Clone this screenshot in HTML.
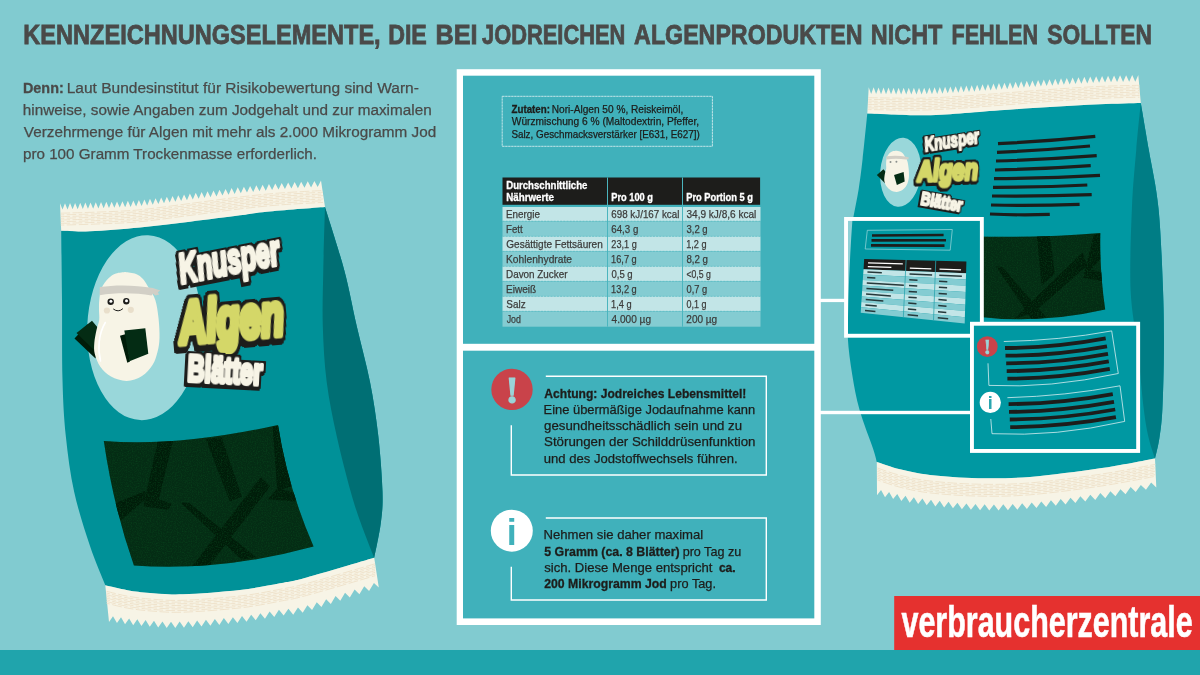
<!DOCTYPE html>
<html lang="de"><head><meta charset="utf-8"><title>Kennzeichnungselemente bei jodreichen Algenprodukten</title>
<style>html,body{margin:0;padding:0;background:#81cbd0;overflow:hidden}svg{display:block}text{font-family:"Liberation Sans",sans-serif}.b{font-weight:bold}</style></head><body>
<svg width="1200" height="675" viewBox="0 0 1200 675" role="img" aria-label="Infografik: Kennzeichnungselemente bei jodreichen Algenprodukten">
<defs>
<filter id="nz" x="0" y="0" width="100%" height="100%" color-interpolation-filters="sRGB"><feTurbulence type="fractalNoise" baseFrequency="0.8" numOctaves="2" seed="7" result="t"/><feColorMatrix in="t" type="matrix" values="0 0 0 0 0.03  0 0 0 0 0.27  0 0 0 0 0.11  0 1.5 0 0 -0.64"/></filter>
</defs>
<rect width="1200" height="675" fill="#81cbd0"/>
<rect y="650" width="1200" height="25" fill="#20a4ac"/>
<text><tspan x="23.32" y="43.6" font-size="27.6" fill="#4a4a49" stroke="#4a4a49" stroke-width="0.8" textLength="357.35" lengthAdjust="spacingAndGlyphs" class="b">KENNZEICHNUNGSELEMENTE,</tspan> <tspan x="388.15" y="43.6" font-size="27.6" fill="#4a4a49" stroke="#4a4a49" stroke-width="0.8" textLength="38.66" lengthAdjust="spacingAndGlyphs" class="b">DIE</tspan> <tspan x="435.51" y="43.6" font-size="27.6" fill="#4a4a49" stroke="#4a4a49" stroke-width="0.8" textLength="42.08" lengthAdjust="spacingAndGlyphs" class="b">BEI</tspan> <tspan x="482.07" y="43.6" font-size="27.6" fill="#4a4a49" stroke="#4a4a49" stroke-width="0.8" textLength="143.3" lengthAdjust="spacingAndGlyphs" class="b">JODREICHEN</tspan> <tspan x="634.12" y="43.6" font-size="27.6" fill="#4a4a49" stroke="#4a4a49" stroke-width="0.8" textLength="228.34" lengthAdjust="spacingAndGlyphs" class="b">ALGENPRODUKTEN</tspan> <tspan x="870.83" y="43.6" font-size="27.6" fill="#4a4a49" stroke="#4a4a49" stroke-width="0.8" textLength="71.52" lengthAdjust="spacingAndGlyphs" class="b">NICHT</tspan> <tspan x="951.45" y="43.6" font-size="27.6" fill="#4a4a49" stroke="#4a4a49" stroke-width="0.8" textLength="86.61" lengthAdjust="spacingAndGlyphs" class="b">FEHLEN</tspan> <tspan x="1047.25" y="43.6" font-size="27.6" fill="#4a4a49" stroke="#4a4a49" stroke-width="0.8" textLength="104.66" lengthAdjust="spacingAndGlyphs" class="b">SOLLTEN</tspan></text>
<text><tspan x="22.99" y="92.5" font-size="15.2" fill="#4a4a49" stroke="#4a4a49" stroke-width="0.3" textLength="40.75" lengthAdjust="spacingAndGlyphs" class="b">Denn:</tspan> <tspan x="66.65" y="92.5" font-size="15.2" fill="#4a4a49" stroke="#4a4a49" stroke-width="0.25" textLength="352.21" lengthAdjust="spacingAndGlyphs">Laut Bundesinstitut für Risikobewertung sind Warn-</tspan> <tspan x="22.87" y="114.5" font-size="15.2" fill="#4a4a49" stroke="#4a4a49" stroke-width="0.25" textLength="408.8" lengthAdjust="spacingAndGlyphs">hinweise, sowie Angaben zum Jodgehalt und zur maximalen</tspan> <tspan x="23.86" y="136.5" font-size="15.2" fill="#4a4a49" stroke="#4a4a49" stroke-width="0.25" textLength="412.3" lengthAdjust="spacingAndGlyphs">Verzehrmenge für Algen mit mehr als 2.000 Mikrogramm Jod</tspan> <tspan x="22.95" y="158.5" font-size="15.2" fill="#4a4a49" stroke="#4a4a49" stroke-width="0.25" textLength="294.11" lengthAdjust="spacingAndGlyphs">pro 100 Gramm Trockenmasse erforderlich.</tspan></text>
<path d="M61.2 230.8C61.33 242.33 61.78 275.13 62 300C62.22 324.87 61.87 357.33 62.5 380C63.13 402.67 63.85 417.33 65.8 436C67.75 454.67 70.17 473.67 74.2 492C78.23 510.33 84.82 530.45 90 546C95.18 561.55 102.75 578.75 105.3 585.3L105.3 585.3C109 586.12 120.05 588.92 127.5 590.2C134.95 591.48 140.75 592.32 150 593C159.25 593.68 168 594.8 183 594.3C198 593.8 223.83 591.83 240 590C256.17 588.17 268.88 585.38 280 583.3C291.12 581.22 291 581.75 306.7 577.5C322.4 573.25 362.95 561.08 374.2 557.8L374.2 557.8C375.3 552 379.42 533.97 380.8 523C382.18 512.03 382.92 506.5 382.5 492C382.08 477.5 380.38 454.33 378.3 436C376.22 417.67 373.6 400.33 370 382C366.4 363.67 361 344.67 356.7 326C352.4 307.33 349.48 289.83 344.2 270C338.92 250.17 328.2 217.5 325 207L325 207C315.28 207.78 280.87 210.32 266.7 211.7C252.53 213.08 252.78 213.63 240 215.3C227.22 216.97 206.67 219.67 190 221.7C173.33 223.73 156.67 225.9 140 227.5C123.33 229.1 103.13 230.75 90 231.3C76.87 231.85 66 230.88 61.2 230.8Z" fill="#009198"/>
<path d="M325 207C328.2 217.5 338.92 250.17 344.2 270C349.48 289.83 352.4 307.33 356.7 326C361 344.67 366.4 363.67 370 382C373.6 400.33 376.22 417.67 378.3 436C380.38 454.33 382.08 477.5 382.5 492C382.92 506.5 382.18 512.03 380.8 523C379.42 533.97 375.3 552 374.2 557.8L374.2 557.8C371.97 552 364.7 533.97 360.8 523C356.9 512.03 354.82 506.5 350.8 492C346.78 477.5 340.72 454.33 336.7 436C332.68 417.67 329.02 400.33 326.7 382C324.38 363.67 323.37 344.67 322.8 326C322.23 307.33 322.93 289.83 323.3 270C323.67 250.17 324.72 217.5 325 207Z" fill="#006f74"/>
<ellipse cx="144.2" cy="327.7" rx="57" ry="92.5" transform="rotate(2.5 144.2 327.7)" fill="#99d7da"/>
<path d="M60 203.3L62.5 209.53L65 203.16L67.51 209.4L70.03 203.03L72.57 209.27L75.1 202.9L77.66 209.13L80.21 202.76L82.79 208.99L85.36 202.61L87.95 208.83L90.54 202.45L93.15 208.66L95.76 202.27L98.39 208.47L101.02 202.06L103.67 208.25L106.32 201.85L108.98 208.05L111.65 201.64L114.34 207.84L117.02 201.42L119.73 207.6L122.43 201.17L125.15 207.32L127.87 200.85L130.61 206.97L133.34 200.47L136.1 206.55L138.85 200.01L141.62 206.04L144.38 199.46L147.17 205.46L149.95 198.84L152.75 204.8L155.55 198.16L158.36 204.1L161.18 197.44L164.01 203.37L166.84 196.69L169.69 202.61L172.54 195.92L175.41 201.84L178.28 195.15L181.17 201.06L184.05 194.38L186.96 200.29L189.87 193.62L192.79 199.54L195.72 192.86L198.66 198.77L201.61 192.08L204.57 197.99L207.53 191.29L210.51 197.19L213.49 190.49L216.49 196.39L219.49 189.69L222.51 195.59L225.53 188.9L228.57 194.81L231.61 188.12L234.67 194.04L237.73 187.37L240.81 193.31L243.89 186.65L246.99 192.6L250.09 185.95L253.21 191.91L256.33 185.28L259.47 191.26L262.61 184.65L265.78 190.64L268.94 184.05L272.12 190.06L275.3 183.49L278.51 189.52L281.71 182.97L284.94 189.03L288.16 182.51L291.41 188.59L294.65 182.09L297.92 188.19L301.18 181.7L304.47 187.82L307.75 181.33L311.05 187.45L314.36 180.97L317.68 187.09L321 180.6L325 207L325 207C315.28 207.78 280.87 210.32 266.7 211.7C252.53 213.08 252.78 213.63 240 215.3C227.22 216.97 206.67 219.67 190 221.7C173.33 223.73 156.67 225.9 140 227.5C123.33 229.1 103.13 230.75 90 231.3C76.87 231.85 66 230.88 61.2 230.8Z" fill="#f7f4e6"/>
<path d="M60.8 213.2C67.33 213 86.8 212.57 100 212C113.2 211.43 125 211.22 140 209.8C155 208.38 173.33 205.63 190 203.5C206.67 201.37 225 198.75 240 197C255 195.25 266.17 194.08 280 193C293.83 191.92 315.83 190.92 323 190.5M60.8 216.6C67.33 216.4 86.8 215.97 100 215.4C113.2 214.83 125 214.62 140 213.2C155 211.78 173.33 209.03 190 206.9C206.67 204.77 225 202.15 240 200.4C255 198.65 266.17 197.48 280 196.4C293.83 195.32 315.83 194.32 323 193.9M60.8 220C67.33 219.8 86.8 219.37 100 218.8C113.2 218.23 125 218.02 140 216.6C155 215.18 173.33 212.43 190 210.3C206.67 208.17 225 205.55 240 203.8C255 202.05 266.17 200.88 280 199.8C293.83 198.72 315.83 197.72 323 197.3M60.8 223.4C67.33 223.2 86.8 222.77 100 222.2C113.2 221.63 125 221.42 140 220C155 218.58 173.33 215.83 190 213.7C206.67 211.57 225 208.95 240 207.2C255 205.45 266.17 204.28 280 203.2C293.83 202.12 315.83 201.12 323 200.7" fill="none" stroke="#eddfc6" stroke-width="0.85" stroke-dasharray="9.5 2.5"/>
<path d="M60.8 214.9C67.33 214.7 86.8 214.27 100 213.7C113.2 213.13 125 212.92 140 211.5C155 210.08 173.33 207.33 190 205.2C206.67 203.07 225 200.45 240 198.7C255 196.95 266.17 195.78 280 194.7C293.83 193.62 315.83 192.62 323 192.2M60.8 218.3C67.33 218.1 86.8 217.67 100 217.1C113.2 216.53 125 216.32 140 214.9C155 213.48 173.33 210.73 190 208.6C206.67 206.47 225 203.85 240 202.1C255 200.35 266.17 199.18 280 198.1C293.83 197.02 315.83 196.02 323 195.6M60.8 221.7C67.33 221.5 86.8 221.07 100 220.5C113.2 219.93 125 219.72 140 218.3C155 216.88 173.33 214.13 190 212C206.67 209.87 225 207.25 240 205.5C255 203.75 266.17 202.58 280 201.5C293.83 200.42 315.83 199.42 323 199M60.8 225.1C67.33 224.9 86.8 224.47 100 223.9C113.2 223.33 125 223.12 140 221.7C155 220.28 173.33 217.53 190 215.4C206.67 213.27 225 210.65 240 208.9C255 207.15 266.17 205.98 280 204.9C293.83 203.82 315.83 202.82 323 202.4" fill="none" stroke="#eddfc6" stroke-width="0.85" stroke-dasharray="9.5 2.5" stroke-dashoffset="6"/>
<path d="M105.3 585.3C109 586.12 120.05 588.92 127.5 590.2C134.95 591.48 140.75 592.32 150 593C159.25 593.68 168 594.8 183 594.3C198 593.8 223.83 591.83 240 590C256.17 588.17 268.88 585.38 280 583.3C291.12 581.22 291 581.75 306.7 577.5C322.4 573.25 362.95 561.08 374.2 557.8L378.8 587.6L373.93 582.95L369.06 590.92L364.23 586.29L359.4 594.25L354.61 589.6L349.81 597.54L345.05 592.87L340.29 600.79L335.56 596.09L330.83 603.98L326.13 599.25L321.43 607.1L316.75 602.31L312.07 610.09L307.4 605.2L302.7 612.8L297.99 607.62L293.22 614.71L288.43 608.74L283.65 615.39L278.94 609.78L274.25 616.9L269.6 611.47L264.96 618.65L260.36 613.2L255.74 620.3L251.16 614.75L246.56 621.74L242 616.05L237.42 622.91L232.88 617.13L228.34 623.93L223.84 618.12L219.33 624.88L214.86 619.03L210.39 625.76L205.95 619.86L201.52 626.54L197.12 620.59L192.71 627.22L188.34 621.2L183.97 627.74L179.64 621.61L175.3 628L171 621.7L166.7 627.91L162.45 621.44L158.19 627.48L153.98 620.86L149.77 626.79L145.61 620.1L141.44 626.02L137.31 619.35L133.19 625.22L129.11 618.43L125.04 624.19L121.01 617.33L116.98 623.05L112.99 616.16L109 621.9Z" fill="#f7f4e6"/>
<path d="M106.5 591.3C110 592.12 120.25 594.92 127.5 596.2C134.75 597.48 140.75 598.32 150 599C159.25 599.68 168 600.8 183 600.3C198 599.8 223.83 597.83 240 596C256.17 594.17 268.88 591.38 280 589.3C291.12 587.22 290.83 587.75 306.7 583.5C322.57 579.25 363.78 567.08 375.2 563.8M106.5 594.7C110 595.52 120.25 598.32 127.5 599.6C134.75 600.88 140.75 601.72 150 602.4C159.25 603.08 168 604.2 183 603.7C198 603.2 223.83 601.23 240 599.4C256.17 597.57 268.88 594.78 280 592.7C291.12 590.62 290.83 591.15 306.7 586.9C322.57 582.65 363.78 570.48 375.2 567.2M106.5 598.1C110 598.92 120.25 601.72 127.5 603C134.75 604.28 140.75 605.12 150 605.8C159.25 606.48 168 607.6 183 607.1C198 606.6 223.83 604.63 240 602.8C256.17 600.97 268.88 598.18 280 596.1C291.12 594.02 290.83 594.55 306.7 590.3C322.57 586.05 363.78 573.88 375.2 570.6M106.5 601.5C110 602.32 120.25 605.12 127.5 606.4C134.75 607.68 140.75 608.52 150 609.2C159.25 609.88 168 611 183 610.5C198 610 223.83 608.03 240 606.2C256.17 604.37 268.88 601.58 280 599.5C291.12 597.42 290.83 597.95 306.7 593.7C322.57 589.45 363.78 577.28 375.2 574" fill="none" stroke="#eddfc6" stroke-width="0.85" stroke-dasharray="9.5 2.5"/>
<path d="M106.5 593C110 593.82 120.25 596.62 127.5 597.9C134.75 599.18 140.75 600.02 150 600.7C159.25 601.38 168 602.5 183 602C198 601.5 223.83 599.53 240 597.7C256.17 595.87 268.88 593.08 280 591C291.12 588.92 290.83 589.45 306.7 585.2C322.57 580.95 363.78 568.78 375.2 565.5M106.5 596.4C110 597.22 120.25 600.02 127.5 601.3C134.75 602.58 140.75 603.42 150 604.1C159.25 604.78 168 605.9 183 605.4C198 604.9 223.83 602.93 240 601.1C256.17 599.27 268.88 596.48 280 594.4C291.12 592.32 290.83 592.85 306.7 588.6C322.57 584.35 363.78 572.18 375.2 568.9M106.5 599.8C110 600.62 120.25 603.42 127.5 604.7C134.75 605.98 140.75 606.82 150 607.5C159.25 608.18 168 609.3 183 608.8C198 608.3 223.83 606.33 240 604.5C256.17 602.67 268.88 599.88 280 597.8C291.12 595.72 290.83 596.25 306.7 592C322.57 587.75 363.78 575.58 375.2 572.3M106.5 603.2C110 604.02 120.25 606.82 127.5 608.1C134.75 609.38 140.75 610.22 150 610.9C159.25 611.58 168 612.7 183 612.2C198 611.7 223.83 609.73 240 607.9C256.17 606.07 268.88 603.28 280 601.2C291.12 599.12 290.83 599.65 306.7 595.4C322.57 591.15 363.78 578.98 375.2 575.7" fill="none" stroke="#eddfc6" stroke-width="0.85" stroke-dasharray="9.5 2.5" stroke-dashoffset="6"/>
<clipPath id="swL"><path d="M103.8 441Q179.1 447 278 425Q287.4 486.2 313.6 546.6Q221.9 571.7 133.9 565.6Q113.4 506.9 103.8 441Z"/></clipPath>
<g clip-path="url(#swL)"><rect x="100" y="420" width="220" height="150" fill="#042c14"/>
<g fill="#001c09">
<polygon points="157.58,441.56 173,440.61 158.77,499.18 171.81,503.93 168.25,509.85 143.36,506.3"/>
<polygon points="113.71,503.93 145.02,490.88 146.91,498 120.83,520.53"/>
<polygon points="205.72,438.71 221.61,437.53 241.77,496.81 229.91,501.55"/>
<polygon points="180.11,502.27 189.6,503.21 255.99,557.28 241.77,559.65"/>
<polygon points="260.74,477.13 270.22,486.14 208.57,566.77 191.97,566.77"/>
<polygon points="277.34,488.51 296.31,493.25 296.31,501.55 267.85,499.18"/>
<polygon points="272.59,426.86 279.71,425.67 291.57,486.14 277.34,490.88"/>
</g><rect x="100" y="420" width="220" height="150" filter="url(#nz)"/></g>
<g>
<polygon points="88,324 74.5,338.5 95.5,358.5 101,340" fill="#001c09"/>
<polygon points="92,320.8 76.5,333 96,352 104,335" fill="#042c14"/>
<path d="M125.5 272C127.25 272.33 133.08 272.83 136 274C138.92 275.17 140.83 276.62 143 279C145.17 281.38 146.95 284.8 149 288.3C151.05 291.8 153.72 295.05 155.3 300C156.88 304.95 157.8 311.67 158.5 318C159.2 324.33 159.67 332.33 159.5 338C159.33 343.67 158.67 347.5 157.5 352C156.33 356.5 155.08 361 152.5 365C149.92 369 146.3 373.33 142 376C137.7 378.67 131.87 380.92 126.7 381C121.53 381.08 115.37 378.83 111 376.5C106.63 374.17 103.2 370.75 100.5 367C97.8 363.25 95.83 358 94.8 354C93.77 350 94.02 347 94.3 343C94.58 339 95.68 333.83 96.5 330C97.32 326.17 98.78 323.33 99.2 320C99.62 316.67 98.98 313.33 99 310C99.02 306.67 98.88 303.62 99.3 300C99.72 296.38 99.97 291.92 101.5 288.3C103.03 284.68 106.08 280.77 108.5 278.3C110.92 275.83 113.17 274.55 116 273.5C118.83 272.45 123.92 272.25 125.5 272Z" fill="#f7f4e6"/>
<path d="M105.3 322.5C98.5 334 97.5 349 100.5 361" fill="none" stroke="#fff" stroke-width="1.6" stroke-linecap="round"/>
<path d="M99.8 287C116 284.6 136 285 152.8 288L160.3 290.6L157.8 292.2L159.2 294.6L155.2 295.6L153 293.4L151.6 295.4C135 292.6 116 292.6 99.6 295.2Z" fill="#d2cfc6"/>
<circle cx="110.7" cy="301.8" r="3.2" fill="#1d1d1b"/><circle cx="126.3" cy="301.2" r="3.2" fill="#1d1d1b"/>
<circle cx="110.9" cy="301.3" r="1.5" fill="#fff"/><circle cx="126.5" cy="300.7" r="1.5" fill="#fff"/>
<circle cx="106.9" cy="310.5" r="3.1" fill="#e9dfcb"/><circle cx="130.8" cy="309.8" r="3.1" fill="#e9dfcb"/>
<path d="M113.6 309.2Q118.2 312.8 122.6 308.9" fill="none" stroke="#1d1d1b" stroke-width="1" stroke-linecap="round"/>
<polygon points="120,335.8 126,334 130,361.5 127.3,362.8" fill="#001c09"/>
<polygon points="124.3,330.6 145.3,328.3 148.3,353.8 129.5,361.3" fill="#042c14"/>
</g>
<filter id="ol1" x="-15%" y="-40%" width="130%" height="190%" color-interpolation-filters="sRGB"><feMorphology in="SourceAlpha" operator="dilate" radius="1.84 2.3" result="d"/><feGaussianBlur in="d" stdDeviation="0.35" result="db"/><feComponentTransfer in="db" result="dd"><feFuncA type="linear" slope="3" intercept="-0.6"/></feComponentTransfer><feOffset in="dd" dx="-1.2" dy="2.2" result="s"/><feMerge result="m"><feMergeNode in="s"/><feMergeNode in="dd"/></feMerge><feFlood flood-color="#1d1d1b"/><feComposite in2="m" operator="in" result="o"/><feMerge><feMergeNode in="o"/><feMergeNode in="SourceGraphic"/></feMerge></filter>
<text transform="translate(181.5 283.5) rotate(-11)" font-size="43" class="b" font-style="italic" stroke-linejoin="round" fill="#f7f4e6" stroke="#f7f4e6" stroke-width="4" textLength="102" lengthAdjust="spacingAndGlyphs" filter="url(#ol1)">Knusper</text>
<filter id="ol2" x="-15%" y="-40%" width="130%" height="190%" color-interpolation-filters="sRGB"><feMorphology in="SourceAlpha" operator="dilate" radius="2.24 2.8" result="d"/><feGaussianBlur in="d" stdDeviation="0.35" result="db"/><feComponentTransfer in="db" result="dd"><feFuncA type="linear" slope="3" intercept="-0.6"/></feComponentTransfer><feOffset in="dd" dx="-1.6" dy="2.6" result="s"/><feMerge result="m"><feMergeNode in="s"/><feMergeNode in="dd"/></feMerge><feFlood flood-color="#1d1d1b"/><feComposite in2="m" operator="in" result="o"/><feMerge><feMergeNode in="o"/><feMergeNode in="SourceGraphic"/></feMerge></filter>
<text transform="translate(180.5 343.5) rotate(-5)" font-size="59" class="b" font-style="italic" stroke-linejoin="round" fill="#d4d768" stroke="#d4d768" stroke-width="7" textLength="105" lengthAdjust="spacingAndGlyphs" filter="url(#ol2)">Algen</text>
<filter id="ol3" x="-15%" y="-40%" width="130%" height="190%" color-interpolation-filters="sRGB"><feMorphology in="SourceAlpha" operator="dilate" radius="1.76 2.2" result="d"/><feGaussianBlur in="d" stdDeviation="0.35" result="db"/><feComponentTransfer in="db" result="dd"><feFuncA type="linear" slope="3" intercept="-0.6"/></feComponentTransfer><feOffset in="dd" dx="-1" dy="2" result="s"/><feMerge result="m"><feMergeNode in="s"/><feMergeNode in="dd"/></feMerge><feFlood flood-color="#1d1d1b"/><feComposite in2="m" operator="in" result="o"/><feMerge><feMergeNode in="o"/><feMergeNode in="SourceGraphic"/></feMerge></filter>
<text transform="translate(187 381) rotate(3)" font-size="37" class="b" stroke-linejoin="round" fill="#f7f4e6" stroke="#f7f4e6" stroke-width="4.2" textLength="75" lengthAdjust="spacingAndGlyphs" filter="url(#ol3)">Blätter</text>
<path d="M867.3 113.5C866.52 121.08 864.03 146.42 862.6 159C861.17 171.58 860.18 179.57 858.7 189C857.22 198.43 855.03 208.27 853.7 215.6C852.37 222.93 851.58 218.93 850.7 233C849.82 247.07 848.88 282.6 848.4 300C847.92 317.4 847.17 325 847.8 337.4C848.43 349.8 850.23 362.3 852.2 374.4C854.17 386.5 856.13 397.65 859.6 410C863.07 422.35 870.13 439.83 873 448.5C875.87 457.17 876.17 459.75 876.8 462L876.8 462C880.67 463.22 891.13 467.13 900 469.3C908.87 471.47 916.98 473.52 930 475C943.02 476.48 961.43 477.88 978.1 478.2C994.77 478.52 1009.68 478.55 1030 476.9C1050.32 475.25 1079.17 471.38 1100 468.3C1120.83 465.22 1145.83 460.05 1155 458.4L1155 458.4C1155.73 455 1158.17 446.32 1159.4 438C1160.63 429.68 1161.65 423.33 1162.4 408.5C1163.15 393.67 1163.8 368.75 1163.9 349C1164 329.25 1163.9 313.42 1163 290C1162.1 266.58 1160.88 231.95 1158.5 208.5C1156.12 185.05 1151.65 166.88 1148.7 149.3C1145.75 131.72 1142.12 110.72 1140.8 103L1140.8 103C1134 103.22 1115.13 103.63 1100 104.3C1084.87 104.97 1066.67 106 1050 107C1033.33 108 1015 109.22 1000 110.3C985 111.38 973.33 112.67 960 113.5C946.67 114.33 935.45 115.3 920 115.3C904.55 115.3 876.08 113.8 867.3 113.5Z" fill="#0098a2"/>
<path d="M1140.8 103C1142.12 110.72 1145.75 131.72 1148.7 149.3C1151.65 166.88 1156.12 185.05 1158.5 208.5C1160.88 231.95 1162.1 266.58 1163 290C1163.9 313.42 1164 329.25 1163.9 349C1163.8 368.75 1163.15 393.67 1162.4 408.5C1161.65 423.33 1160.63 429.68 1159.4 438C1158.17 446.32 1155.73 455 1155 458.4L1155 458.4C1153.95 455 1150.58 446.32 1148.7 438C1146.82 429.68 1145.52 423.33 1143.7 408.5C1141.88 393.67 1139.98 368.75 1137.8 349C1135.62 329.25 1131.58 313.42 1130.6 290C1129.62 266.58 1130.95 231.95 1131.9 208.5C1132.85 185.05 1134.82 166.88 1136.3 149.3C1137.78 131.72 1140.05 110.72 1140.8 103Z" fill="#007d85"/>
<path d="M868.7 87.3L871.16 94.03L873.62 87.37L876.09 94.11L878.57 87.45L881.05 94.2L883.54 87.54L886.03 94.28L888.53 87.62L891.04 94.36L893.55 87.69L896.07 94.43L898.6 87.76L901.13 94.49L903.66 87.81L906.21 94.53L908.76 87.84L911.32 94.55L913.88 87.85L916.45 94.54L919.02 87.81L921.6 94.47L924.18 87.72L926.78 94.35L929.37 87.57L931.98 94.17L934.59 87.36L937.2 93.94L939.82 87.11L942.45 93.67L945.08 86.82L947.72 93.36L950.36 86.5L953.01 93.03L955.66 86.17L958.33 92.7L960.99 85.84L963.67 92.37L966.34 85.5L969.03 92.02L971.72 85.13L974.42 91.64L977.12 84.74L979.83 91.24L982.54 84.34L985.26 90.83L987.99 83.92L990.72 90.41L993.46 83.5L996.2 89.99L998.95 83.08L1001.71 89.57L1004.47 82.66L1007.24 89.14L1010.01 82.22L1012.8 88.7L1015.58 81.77L1018.37 88.25L1021.17 81.32L1023.98 87.79L1026.78 80.87L1029.6 87.34L1032.42 80.42L1035.26 86.9L1038.09 79.98L1040.94 86.46L1043.78 79.55L1046.64 86.04L1049.5 79.14L1052.37 85.63L1055.24 78.74L1058.12 85.24L1061.01 78.34L1063.9 84.85L1066.8 77.95L1069.71 84.46L1072.62 77.57L1075.54 84.09L1078.46 77.2L1081.39 83.72L1084.33 76.85L1087.27 83.38L1090.22 76.51L1093.18 83.05L1096.14 76.19L1099.11 82.74L1102.09 75.9L1105.07 82.48L1108.06 75.67L1111.06 82.27L1114.06 75.47L1117.07 82.09L1120.08 75.31L1123.1 81.94L1126.13 75.17L1129.17 81.8L1132.2 75.04L1135.25 81.68L1138.3 74.9L1140.8 103L1140.8 103C1134 103.22 1115.13 103.63 1100 104.3C1084.87 104.97 1066.67 106 1050 107C1033.33 108 1015 109.22 1000 110.3C985 111.38 973.33 112.67 960 113.5C946.67 114.33 935.45 115.3 920 115.3C904.55 115.3 876.08 113.8 867.3 113.5Z" fill="#f7f4e6"/>
<path d="M868.2 97.7C876.83 97.78 904.7 98.43 920 98.2C935.3 97.97 946.67 97.1 960 96.3C973.33 95.5 985 94.53 1000 93.4C1015 92.27 1033.33 90.67 1050 89.5C1066.67 88.33 1085.08 87.1 1100 86.4C1114.92 85.7 1132.92 85.48 1139.5 85.3M868.2 101.1C876.83 101.18 904.7 101.83 920 101.6C935.3 101.37 946.67 100.5 960 99.7C973.33 98.9 985 97.93 1000 96.8C1015 95.67 1033.33 94.07 1050 92.9C1066.67 91.73 1085.08 90.5 1100 89.8C1114.92 89.1 1132.92 88.88 1139.5 88.7M868.2 104.5C876.83 104.58 904.7 105.23 920 105C935.3 104.77 946.67 103.9 960 103.1C973.33 102.3 985 101.33 1000 100.2C1015 99.07 1033.33 97.47 1050 96.3C1066.67 95.13 1085.08 93.9 1100 93.2C1114.92 92.5 1132.92 92.28 1139.5 92.1M868.2 107.9C876.83 107.98 904.7 108.63 920 108.4C935.3 108.17 946.67 107.3 960 106.5C973.33 105.7 985 104.73 1000 103.6C1015 102.47 1033.33 100.87 1050 99.7C1066.67 98.53 1085.08 97.3 1100 96.6C1114.92 95.9 1132.92 95.68 1139.5 95.5" fill="none" stroke="#eddfc6" stroke-width="0.85" stroke-dasharray="9.5 2.5"/>
<path d="M868.2 99.4C876.83 99.48 904.7 100.13 920 99.9C935.3 99.67 946.67 98.8 960 98C973.33 97.2 985 96.23 1000 95.1C1015 93.97 1033.33 92.37 1050 91.2C1066.67 90.03 1085.08 88.8 1100 88.1C1114.92 87.4 1132.92 87.18 1139.5 87M868.2 102.8C876.83 102.88 904.7 103.53 920 103.3C935.3 103.07 946.67 102.2 960 101.4C973.33 100.6 985 99.63 1000 98.5C1015 97.37 1033.33 95.77 1050 94.6C1066.67 93.43 1085.08 92.2 1100 91.5C1114.92 90.8 1132.92 90.58 1139.5 90.4M868.2 106.2C876.83 106.28 904.7 106.93 920 106.7C935.3 106.47 946.67 105.6 960 104.8C973.33 104 985 103.03 1000 101.9C1015 100.77 1033.33 99.17 1050 98C1066.67 96.83 1085.08 95.6 1100 94.9C1114.92 94.2 1132.92 93.98 1139.5 93.8M868.2 109.6C876.83 109.68 904.7 110.33 920 110.1C935.3 109.87 946.67 109 960 108.2C973.33 107.4 985 106.43 1000 105.3C1015 104.17 1033.33 102.57 1050 101.4C1066.67 100.23 1085.08 99 1100 98.3C1114.92 97.6 1132.92 97.38 1139.5 97.2" fill="none" stroke="#eddfc6" stroke-width="0.85" stroke-dasharray="9.5 2.5" stroke-dashoffset="6"/>
<path d="M876.8 462C880.67 463.22 891.13 467.13 900 469.3C908.87 471.47 916.98 473.52 930 475C943.02 476.48 961.43 477.88 978.1 478.2C994.77 478.52 1009.68 478.55 1030 476.9C1050.32 475.25 1079.17 471.38 1100 468.3C1120.83 465.22 1145.83 460.05 1155 458.4L1156.3 487.6L1151.13 482.61L1145.96 489.85L1140.84 484.89L1135.71 492.11L1130.62 487.12L1125.53 494.3L1120.46 489.25L1115.4 496.37L1110.36 491.24L1105.32 498.28L1100.31 493.05L1095.29 499.98L1090.3 494.68L1085.31 501.56L1080.36 496.22L1075.41 503.06L1070.49 497.67L1065.57 504.46L1060.69 499.03L1055.8 505.78L1050.95 500.3L1046.1 506.99L1041.28 501.45L1036.46 508.07L1031.68 502.45L1026.89 508.97L1022.14 503.26L1017.38 509.71L1012.66 503.91L1007.94 510.25L1003.26 504.32L998.57 510.52L993.92 504.45L989.27 510.52L984.67 504.32L980.06 510.28L975.5 503.99L970.94 509.83L966.42 503.43L961.9 509.18L957.43 502.7L952.97 508.37L948.54 501.83L944.12 507.45L939.74 500.85L935.36 506.42L931.03 499.77L926.7 505.3L922.41 498.61L918.13 504.08L913.9 497.3L909.68 502.64L905.51 495.72L901.35 500.96L897.24 493.96L893.14 499.12L889.09 492.06L885.04 497.19L881.02 490.12L877 495.3Z" fill="#f7f4e6"/>
<path d="M877.4 468C881.17 469.22 891.23 473.13 900 475.3C908.77 477.47 916.98 479.52 930 481C943.02 482.48 961.43 483.88 978.1 484.2C994.77 484.52 1009.68 484.55 1030 482.9C1050.32 481.25 1079.1 477.38 1100 474.3C1120.9 471.22 1146.17 466.05 1155.4 464.4M877.4 471.4C881.17 472.62 891.23 476.53 900 478.7C908.77 480.87 916.98 482.92 930 484.4C943.02 485.88 961.43 487.28 978.1 487.6C994.77 487.92 1009.68 487.95 1030 486.3C1050.32 484.65 1079.1 480.78 1100 477.7C1120.9 474.62 1146.17 469.45 1155.4 467.8M877.4 474.8C881.17 476.02 891.23 479.93 900 482.1C908.77 484.27 916.98 486.32 930 487.8C943.02 489.28 961.43 490.68 978.1 491C994.77 491.32 1009.68 491.35 1030 489.7C1050.32 488.05 1079.1 484.18 1100 481.1C1120.9 478.02 1146.17 472.85 1155.4 471.2M877.4 478.2C881.17 479.42 891.23 483.33 900 485.5C908.77 487.67 916.98 489.72 930 491.2C943.02 492.68 961.43 494.08 978.1 494.4C994.77 494.72 1009.68 494.75 1030 493.1C1050.32 491.45 1079.1 487.58 1100 484.5C1120.9 481.42 1146.17 476.25 1155.4 474.6" fill="none" stroke="#eddfc6" stroke-width="0.85" stroke-dasharray="9.5 2.5"/>
<path d="M877.4 469.7C881.17 470.92 891.23 474.83 900 477C908.77 479.17 916.98 481.22 930 482.7C943.02 484.18 961.43 485.58 978.1 485.9C994.77 486.22 1009.68 486.25 1030 484.6C1050.32 482.95 1079.1 479.08 1100 476C1120.9 472.92 1146.17 467.75 1155.4 466.1M877.4 473.1C881.17 474.32 891.23 478.23 900 480.4C908.77 482.57 916.98 484.62 930 486.1C943.02 487.58 961.43 488.98 978.1 489.3C994.77 489.62 1009.68 489.65 1030 488C1050.32 486.35 1079.1 482.48 1100 479.4C1120.9 476.32 1146.17 471.15 1155.4 469.5M877.4 476.5C881.17 477.72 891.23 481.63 900 483.8C908.77 485.97 916.98 488.02 930 489.5C943.02 490.98 961.43 492.38 978.1 492.7C994.77 493.02 1009.68 493.05 1030 491.4C1050.32 489.75 1079.1 485.88 1100 482.8C1120.9 479.72 1146.17 474.55 1155.4 472.9M877.4 479.9C881.17 481.12 891.23 485.03 900 487.2C908.77 489.37 916.98 491.42 930 492.9C943.02 494.38 961.43 495.78 978.1 496.1C994.77 496.42 1009.68 496.45 1030 494.8C1050.32 493.15 1079.1 489.28 1100 486.2C1120.9 483.12 1146.17 477.95 1155.4 476.3" fill="none" stroke="#eddfc6" stroke-width="0.85" stroke-dasharray="9.5 2.5" stroke-dashoffset="6"/>
<ellipse cx="900.6" cy="172.3" rx="20.4" ry="34.6" transform="rotate(5 900.6 172.3)" fill="#99d7da"/>
<g transform="translate(896.5 171.3) scale(0.378) translate(-126.5 -326.5)">
<polygon points="92,320.8 74.5,336 96,358 104,335" fill="#042c14"/>
<path d="M125.5 272C127.25 272.33 133.08 272.83 136 274C138.92 275.17 140.83 276.62 143 279C145.17 281.38 146.95 284.8 149 288.3C151.05 291.8 153.72 295.05 155.3 300C156.88 304.95 157.8 311.67 158.5 318C159.2 324.33 159.67 332.33 159.5 338C159.33 343.67 158.67 347.5 157.5 352C156.33 356.5 155.08 361 152.5 365C149.92 369 146.3 373.33 142 376C137.7 378.67 131.87 380.92 126.7 381C121.53 381.08 115.37 378.83 111 376.5C106.63 374.17 103.2 370.75 100.5 367C97.8 363.25 95.83 358 94.8 354C93.77 350 94.02 347 94.3 343C94.58 339 95.68 333.83 96.5 330C97.32 326.17 98.78 323.33 99.2 320C99.62 316.67 98.98 313.33 99 310C99.02 306.67 98.88 303.62 99.3 300C99.72 296.38 99.97 291.92 101.5 288.3C103.03 284.68 106.08 280.77 108.5 278.3C110.92 275.83 113.17 274.55 116 273.5C118.83 272.45 123.92 272.25 125.5 272Z" fill="#f7f4e6"/>
<path d="M99.8 287C116 284.6 136 285 152.8 288L160.3 290.6L157.8 292.2L159.2 294.6L155.2 295.6L153 293.4L151.6 295.4C135 292.6 116 292.6 99.6 295.2Z" fill="#d2cfc6"/>
<circle cx="110.7" cy="301.8" r="2.6" fill="#8a8f8c"/><circle cx="126.3" cy="301.2" r="2.6" fill="#8a8f8c"/>
<polygon points="120,336.5 145.3,328.3 148.2,353.6 127.5,362.6" fill="#042c14"/>
</g>
<filter id="ol4" x="-15%" y="-40%" width="130%" height="190%" color-interpolation-filters="sRGB"><feMorphology in="SourceAlpha" operator="dilate" radius="1.04 1.3" result="d"/><feGaussianBlur in="d" stdDeviation="0.35" result="db"/><feComponentTransfer in="db" result="dd"><feFuncA type="linear" slope="3" intercept="-0.6"/></feComponentTransfer><feOffset in="dd" dx="-0.7" dy="1.1" result="s"/><feMerge result="m"><feMergeNode in="s"/><feMergeNode in="dd"/></feMerge><feFlood flood-color="#1d1d1b"/><feComposite in2="m" operator="in" result="o"/><feMerge><feMergeNode in="o"/><feMergeNode in="SourceGraphic"/></feMerge></filter>
<text transform="translate(925.5 151.5) rotate(-9)" font-size="21" class="b" font-style="italic" stroke-linejoin="round" fill="#f7f4e6" stroke="#f7f4e6" stroke-width="2" textLength="55" lengthAdjust="spacingAndGlyphs" filter="url(#ol4)">Knusper</text>
<filter id="ol5" x="-15%" y="-40%" width="130%" height="190%" color-interpolation-filters="sRGB"><feMorphology in="SourceAlpha" operator="dilate" radius="1.28 1.6" result="d"/><feGaussianBlur in="d" stdDeviation="0.35" result="db"/><feComponentTransfer in="db" result="dd"><feFuncA type="linear" slope="3" intercept="-0.6"/></feComponentTransfer><feOffset in="dd" dx="-0.9" dy="1.4" result="s"/><feMerge result="m"><feMergeNode in="s"/><feMergeNode in="dd"/></feMerge><feFlood flood-color="#1d1d1b"/><feComposite in2="m" operator="in" result="o"/><feMerge><feMergeNode in="o"/><feMergeNode in="SourceGraphic"/></feMerge></filter>
<text transform="translate(917.5 181.5) rotate(-2)" font-size="30" class="b" font-style="italic" stroke-linejoin="round" fill="#d4d768" stroke="#d4d768" stroke-width="3.6" textLength="61" lengthAdjust="spacingAndGlyphs" filter="url(#ol5)">Algen</text>
<filter id="ol6" x="-15%" y="-40%" width="130%" height="190%" color-interpolation-filters="sRGB"><feMorphology in="SourceAlpha" operator="dilate" radius="1.04 1.3" result="d"/><feGaussianBlur in="d" stdDeviation="0.35" result="db"/><feComponentTransfer in="db" result="dd"><feFuncA type="linear" slope="3" intercept="-0.6"/></feComponentTransfer><feOffset in="dd" dx="-0.6" dy="1" result="s"/><feMerge result="m"><feMergeNode in="s"/><feMergeNode in="dd"/></feMerge><feFlood flood-color="#1d1d1b"/><feComposite in2="m" operator="in" result="o"/><feMerge><feMergeNode in="o"/><feMergeNode in="SourceGraphic"/></feMerge></filter>
<text transform="translate(920 204.5) rotate(10)" font-size="18" class="b" stroke-linejoin="round" fill="#f7f4e6" stroke="#f7f4e6" stroke-width="2.2" textLength="42" lengthAdjust="spacingAndGlyphs" filter="url(#ol6)">Blätter</text>
<path d="M998 143.7Q1046.65 141.2 1095.3 136.3M997 152.3Q1043.5 150.35 1090 146M996 161Q1046.35 159.55 1096.7 155.7M995 170Q1042.85 169 1090.7 165.6M994 178.7Q1047 178.2 1100 175.3M993 187.3Q1040.15 187.35 1087.3 185M992 196Q1041.85 196.55 1091.7 194.7M991 205Q1035.3 205.85 1079.6 204.3M990 214Q1019.9 215.4 1049.8 214.4" fill="none" stroke="#1d1d1b" stroke-width="3.2"/>
<clipPath id="swR"><path d="M975 236.5Q1040 238 1100.3 233Q1099.5 270 1105.2 309.6Q1040 324.5 975 316.5Z"/></clipPath>
<g clip-path="url(#swR)"><rect x="970" y="225" width="140" height="100" fill="#042c14"/>
<g fill="#001c09">
<polygon points="996.07,266.44 1002.59,267.25 1046.58,317.76 1031.91,319.39"/>
<polygon points="1036.8,235.48 1049.84,235.48 1054.73,273.77 1041.69,285.17"/>
<polygon points="1082.42,252.59 1087.31,265.62 1035.17,311.24 1013.99,319.39 1038.43,294.95"/>
<polygon points="1093.83,234.66 1100.35,233.85 1100.35,259.1 1087.31,273.77 1084.05,273.77"/>
<polygon points="1087.31,268.88 1101.98,272.14 1101.98,281.1 1083.24,277.84"/>
</g><rect x="970" y="225" width="140" height="100" filter="url(#nz)"/></g>
<rect x="818" y="298.8" width="28" height="3.3" fill="#fff"/>
<rect x="818" y="410.8" width="154" height="3.4" fill="#fff"/>
<rect x="845.8" y="218.7" width="136" height="117.3" fill="#0098a2"/>
<path d="M845.8 218.7H852.5Q849.5 260 848.4 300L847.6 336H845.8Z" fill="#8fd0d6"/>
<rect x="846.05" y="218.95" width="135.8" height="116.8" fill="none" stroke="#fff" stroke-width="3.9"/>
<polygon points="867.3,230.3 952.3,229.5 950.2,250.2 865.2,249" fill="none" stroke="#9fd8dc" stroke-width="0.7"/>
<path d="M872 235.5L943.6 235M871.5 240.4L946 240.2M871 245.4L944.5 245.6" stroke="#1d1d1b" stroke-width="2.6" fill="none"/>
<polygon points="864.2,258.9 966.4,261.4 966.08,273.22 863.54,269.14" fill="#1d1d1b"/>
<polygon points="863.54,269.14 966.08,273.22 965.9,279.52 863.18,274.6" fill="#c2e5e7"/>
<polygon points="863.18,274.6 965.9,279.52 965.73,285.81 862.83,280.06" fill="#84ccd2"/>
<polygon points="862.83,280.06 965.73,285.81 965.56,292.11 862.47,285.51" fill="#c2e5e7"/>
<polygon points="862.47,285.51 965.56,292.11 965.39,298.41 862.12,290.97" fill="#84ccd2"/>
<polygon points="862.12,290.97 965.39,298.41 965.22,304.71 861.76,296.43" fill="#c2e5e7"/>
<polygon points="861.76,296.43 965.22,304.71 965.04,311 861.41,301.89" fill="#84ccd2"/>
<polygon points="861.41,301.89 965.04,311 964.87,317.3 861.05,307.34" fill="#c2e5e7"/>
<polygon points="861.05,307.34 964.87,317.3 964.7,323.6 860.7,312.8" fill="#84ccd2"/>
<line x1="906.1" y1="259.92" x2="903.34" y2="317.23" stroke="#2aa5af" stroke-width="0.8"/>
<line x1="935.74" y1="260.65" x2="933.5" y2="320.36" stroke="#2aa5af" stroke-width="0.8"/>
<path d="M868.05 262.8L902.84 263.84M867.81 266.59L891.37 267.43M909.81 268.09L931.33 268.86M939.52 269.16L961.04 269.92" stroke="#fff" stroke-width="1.3" fill="none"/>
<path d="M867.46 272.05L881.83 272.68M909.54 273.89L932.12 274.88M939.31 275.2L961.89 276.19M867.12 277.54L875.34 277.97M909.27 279.73L917.5 280.16M939.09 281.28L947.31 281.7M866.77 283.03L903.85 285.26M909 285.56L917.24 286.06M938.87 287.36L947.11 287.85M866.42 288.52L893.25 290.35M908.73 291.4L916.98 291.96M938.65 293.44L946.9 294M866.07 294.01L890.88 295.9M908.45 297.24L916.72 297.86M938.43 299.51L946.7 300.14M865.73 299.5L883.33 300.98M908.18 303.07L916.46 303.77M938.21 305.59L946.49 306.29M865.38 305L876.79 306.04M907.91 308.91L916.21 309.67M937.99 311.67L946.29 312.44M865.03 310.49L875.42 311.52M907.64 314.74L918.03 315.78M937.77 317.75L948.16 318.79" stroke="#26383a" stroke-width="1.5" fill="none"/>
<rect x="970" y="322" width="170.1" height="130.8" fill="#0098a2"/>
<rect x="971.95" y="323.75" width="166.2" height="127.2" fill="none" stroke="#fff" stroke-width="3.9"/>
<path d="M1005 348Q1055.35 347.8 1105.7 338.4M1005.5 355.7Q1056.25 355.6 1107 346.3M1006.2 363.3Q1057.1 363.15 1108 353.8M1006.7 371.1Q1057.75 370.85 1108.8 361.4M1007.4 378.7Q1058.6 378.35 1109.8 368.8M1008.6 404.1Q1060.7 403.7 1112.8 394.1M1009 411.9Q1061.5 411.5 1114 401.9M1009.8 419.5Q1062.5 419.1 1115.2 409.5M1010.2 427.1Q1063.05 426.7 1115.9 417.1" fill="none" stroke="#1d1d1b" stroke-width="3.8"/>
<path d="M1003.8 341.5Q1060 340.5 1111.7 330.9L1118.3 373.5Q1050 388.5 988.9 385.4L988 363.3" fill="none" stroke="#d7eef0" stroke-width="0.8"/>
<path d="M1007.4 397.7Q1066 396 1120 385.8L1124.7 421.4Q1056 437 992 433.7L990.8 419" fill="none" stroke="#d7eef0" stroke-width="0.8"/>
<circle cx="987.3" cy="346.7" r="10.4" fill="#c9434a"/>
<text x="987.3" y="353.6" font-size="20" class="b" style="font-family:'Liberation Serif',serif" fill="#9ad4d8" stroke="#9ad4d8" stroke-width="0.6" text-anchor="middle">!</text>
<circle cx="990.3" cy="402.4" r="10.6" fill="#fff"/>
<text x="990.3" y="408.8" font-size="18" class="b" fill="#2aa5af" text-anchor="middle">i</text>
<rect x="456.7" y="69.2" width="364.1" height="555.8" fill="#fff"/>
<rect x="463" y="75.7" width="351.3" height="268.1" fill="#40b1bb"/>
<rect x="463" y="350.7" width="351.3" height="267.7" fill="#40b1bb"/>
<rect x="502.2" y="96.3" width="210.2" height="50" fill="none" stroke="#c4e6e9" stroke-width="1" stroke-dasharray="2.4 0.6"/>
<text><tspan x="511.56" y="112.6" font-size="10.4" fill="#1d1d1b" stroke="#1d1d1b" stroke-width="0.3" textLength="38.43" lengthAdjust="spacingAndGlyphs" class="b">Zutaten:</tspan> <tspan x="551.8" y="112.6" font-size="10.4" fill="#1d1d1b" stroke="#1d1d1b" stroke-width="0.25" textLength="131.49" lengthAdjust="spacingAndGlyphs">Nori-Algen 50 %, Reiskeimöl,</tspan> <tspan x="511.78" y="125.2" font-size="10.4" fill="#1d1d1b" stroke="#1d1d1b" stroke-width="0.25" textLength="187.31" lengthAdjust="spacingAndGlyphs">Würzmischung 6 % (Maltodextrin, Pfeffer,</tspan> <tspan x="511.38" y="137.8" font-size="10.4" fill="#1d1d1b" stroke="#1d1d1b" stroke-width="0.25" textLength="188.31" lengthAdjust="spacingAndGlyphs">Salz, Geschmacksverstärker [E631, E627])</tspan></text>
<rect x="502.5" y="177.5" width="257.6" height="27.3" fill="#1d1d1b"/>
<rect x="502.5" y="207" width="258" height="14.2" fill="#c2e5e7"/>
<rect x="502.5" y="221.2" width="258" height="15.1" fill="#84ccd2"/>
<rect x="502.5" y="236.3" width="258" height="15" fill="#c2e5e7"/>
<rect x="502.5" y="251.3" width="258" height="15" fill="#84ccd2"/>
<rect x="502.5" y="266.3" width="258" height="15" fill="#c2e5e7"/>
<rect x="502.5" y="281.3" width="258" height="15" fill="#84ccd2"/>
<rect x="502.5" y="296.3" width="258" height="15" fill="#c2e5e7"/>
<rect x="502.5" y="311.3" width="258" height="15.4" fill="#84ccd2"/>
<path d="M607.5 177.5V326.7M682.5 177.5V326.7" stroke="#4bb5be" stroke-width="1" fill="none"/>
<path d="M502.5 221.2H760.5M502.5 236.3H760.5M502.5 251.3H760.5M502.5 266.3H760.5M502.5 281.3H760.5M502.5 296.3H760.5M502.5 311.3H760.5" stroke="#4fb7c0" stroke-width="0.6" stroke-dasharray="2 1.2" fill="none"/>
<text><tspan x="506.21" y="188.7" font-size="10.3" fill="#fff" stroke="#fff" stroke-width="0.3" textLength="81.17" lengthAdjust="spacingAndGlyphs" class="b">Durchschnittliche</tspan> <tspan x="506.2" y="201.3" font-size="10.3" fill="#fff" stroke="#fff" stroke-width="0.3" textLength="47.79" lengthAdjust="spacingAndGlyphs" class="b">Nährwerte</tspan></text>
<text x="611.23" y="201.3" font-size="10.3" fill="#fff" stroke="#fff" stroke-width="0.3" textLength="41.74" lengthAdjust="spacingAndGlyphs" class="b">Pro 100 g</text>
<text x="686.23" y="201.3" font-size="10.3" fill="#fff" stroke="#fff" stroke-width="0.3" textLength="66.75" lengthAdjust="spacingAndGlyphs" class="b">Pro Portion 5 g</text>
<text x="506.02" y="218.3" font-size="10.8" fill="#3c3c3b" stroke="#3c3c3b" stroke-width="0.25" textLength="34" lengthAdjust="spacingAndGlyphs">Energie</text>
<text x="611.33" y="218.3" font-size="10.8" fill="#3c3c3b" stroke="#3c3c3b" stroke-width="0.25" textLength="68" lengthAdjust="spacingAndGlyphs">698 kJ/167 kcal</text>
<text x="686.44" y="218.3" font-size="10.8" fill="#3c3c3b" stroke="#3c3c3b" stroke-width="0.25" textLength="69.91" lengthAdjust="spacingAndGlyphs">34,9 kJ/8,6 kcal</text>
<text x="506.03" y="233.3" font-size="10.8" fill="#3c3c3b" stroke="#3c3c3b" stroke-width="0.25" textLength="16.72" lengthAdjust="spacingAndGlyphs">Fett</text>
<text x="611.33" y="233.3" font-size="10.8" fill="#3c3c3b" stroke="#3c3c3b" stroke-width="0.25" textLength="26.97" lengthAdjust="spacingAndGlyphs">64,3 g</text>
<text x="686.46" y="233.3" font-size="10.8" fill="#3c3c3b" stroke="#3c3c3b" stroke-width="0.25" textLength="21.23" lengthAdjust="spacingAndGlyphs">3,2 g</text>
<text x="506.32" y="248.3" font-size="10.8" fill="#3c3c3b" stroke="#3c3c3b" stroke-width="0.25" textLength="96.41" lengthAdjust="spacingAndGlyphs">Gesättigte Fettsäuren</text>
<text x="611.37" y="248.3" font-size="10.8" fill="#3c3c3b" stroke="#3c3c3b" stroke-width="0.25" textLength="25.4" lengthAdjust="spacingAndGlyphs">23,1 g</text>
<text x="686.13" y="248.3" font-size="10.8" fill="#3c3c3b" stroke="#3c3c3b" stroke-width="0.25" textLength="20.34" lengthAdjust="spacingAndGlyphs">1,2 g</text>
<text x="505.98" y="263.3" font-size="10.8" fill="#3c3c3b" stroke="#3c3c3b" stroke-width="0.25" textLength="66.05" lengthAdjust="spacingAndGlyphs">Kohlenhydrate</text>
<text x="611.12" y="263.3" font-size="10.8" fill="#3c3c3b" stroke="#3c3c3b" stroke-width="0.25" textLength="25.65" lengthAdjust="spacingAndGlyphs">16,7 g</text>
<text x="686.4" y="263.3" font-size="10.8" fill="#3c3c3b" stroke="#3c3c3b" stroke-width="0.25" textLength="21.6" lengthAdjust="spacingAndGlyphs">8,2 g</text>
<text x="506.01" y="278.3" font-size="10.8" fill="#3c3c3b" stroke="#3c3c3b" stroke-width="0.25" textLength="61.52" lengthAdjust="spacingAndGlyphs">Davon Zucker</text>
<text x="611.45" y="278.3" font-size="10.8" fill="#3c3c3b" stroke="#3c3c3b" stroke-width="0.25" textLength="21.24" lengthAdjust="spacingAndGlyphs">0,5 g</text>
<text x="686.39" y="278.3" font-size="10.8" fill="#3c3c3b" stroke="#3c3c3b" stroke-width="0.25" textLength="24.54" lengthAdjust="spacingAndGlyphs">&lt;0,5 g</text>
<text x="506" y="293.3" font-size="10.8" fill="#3c3c3b" stroke="#3c3c3b" stroke-width="0.25" textLength="30.08" lengthAdjust="spacingAndGlyphs">Eiweiß</text>
<text x="611.12" y="293.3" font-size="10.8" fill="#3c3c3b" stroke="#3c3c3b" stroke-width="0.25" textLength="25.65" lengthAdjust="spacingAndGlyphs">13,2 g</text>
<text x="686.46" y="293.3" font-size="10.8" fill="#3c3c3b" stroke="#3c3c3b" stroke-width="0.25" textLength="20.71" lengthAdjust="spacingAndGlyphs">0,7 g</text>
<text x="506.37" y="308.3" font-size="10.8" fill="#3c3c3b" stroke="#3c3c3b" stroke-width="0.25" textLength="19.29" lengthAdjust="spacingAndGlyphs">Salz</text>
<text x="611.12" y="308.3" font-size="10.8" fill="#3c3c3b" stroke="#3c3c3b" stroke-width="0.25" textLength="20.55" lengthAdjust="spacingAndGlyphs">1,4 g</text>
<text x="686.47" y="308.3" font-size="10.8" fill="#3c3c3b" stroke="#3c3c3b" stroke-width="0.25" textLength="19.98" lengthAdjust="spacingAndGlyphs">0,1 g</text>
<text x="506.69" y="323.3" font-size="10.8" fill="#3c3c3b" stroke="#3c3c3b" stroke-width="0.25" textLength="14.26" lengthAdjust="spacingAndGlyphs">Jod</text>
<text x="611.59" y="323.3" font-size="10.8" fill="#3c3c3b" stroke="#3c3c3b" stroke-width="0.25" textLength="39.43" lengthAdjust="spacingAndGlyphs">4.000 µg</text>
<text x="686.32" y="323.3" font-size="10.8" fill="#3c3c3b" stroke="#3c3c3b" stroke-width="0.25" textLength="30.9" lengthAdjust="spacingAndGlyphs">200 µg</text>
<path d="M545.8 376.3H766.3V475H511.3V425.3" fill="none" stroke="#fff" stroke-width="1.4"/>
<circle cx="512" cy="389.4" r="20.7" fill="#c9434a"/>
<text x="512" y="402.6" font-size="38" class="b" style="font-family:'Liberation Serif',serif" fill="#9ad4d8" stroke="#9ad4d8" stroke-width="1.2" stroke-linejoin="round" text-anchor="middle">!</text>
<text><tspan x="544.35" y="397.5" font-size="12.6" fill="#1d1d1b" stroke="#1d1d1b" stroke-width="0.3" textLength="201.95" lengthAdjust="spacingAndGlyphs" class="b">Achtung: Jodreiches Lebensmittel!</tspan> <tspan x="543.57" y="413.8" font-size="12.6" fill="#1d1d1b" stroke="#1d1d1b" stroke-width="0.25" textLength="211.65" lengthAdjust="spacingAndGlyphs">Eine übermäßige Jodaufnahme kann</tspan> <tspan x="544.07" y="430" font-size="12.6" fill="#1d1d1b" stroke="#1d1d1b" stroke-width="0.25" textLength="197.99" lengthAdjust="spacingAndGlyphs">gesundheitsschädlich sein und zu</tspan> <tspan x="544.02" y="446.3" font-size="12.6" fill="#1d1d1b" stroke="#1d1d1b" stroke-width="0.25" textLength="211.42" lengthAdjust="spacingAndGlyphs">Störungen der Schilddrüsenfunktion</tspan> <tspan x="543.78" y="462.5" font-size="12.6" fill="#1d1d1b" stroke="#1d1d1b" stroke-width="0.25" textLength="193.99" lengthAdjust="spacingAndGlyphs">und des Jodstoffwechsels führen.</tspan></text>
<path d="M545.8 518H766.3V600H511.3V566.7" fill="none" stroke="#fff" stroke-width="1.4"/>
<circle cx="511.8" cy="530.7" r="21" fill="#fff"/>
<text x="511.8" y="544.5" font-size="36" class="b" fill="#40b1bb" text-anchor="middle">i</text>
<text><tspan x="543.55" y="539.2" font-size="12.6" fill="#1d1d1b" stroke="#1d1d1b" stroke-width="0.25" textLength="159.7" lengthAdjust="spacingAndGlyphs">Nehmen sie daher maximal</tspan> <tspan x="544.27" y="555.5" font-size="12.6" fill="#1d1d1b" stroke="#1d1d1b" stroke-width="0.3" textLength="135.4" lengthAdjust="spacingAndGlyphs" class="b">5 Gramm (ca. 8 Blätter)</tspan> <tspan x="682.64" y="555.5" font-size="12.6" fill="#1d1d1b" stroke="#1d1d1b" stroke-width="0.25" textLength="58.55" lengthAdjust="spacingAndGlyphs">pro Tag zu</tspan> <tspan x="544.26" y="571.7" font-size="12.6" fill="#1d1d1b" stroke="#1d1d1b" stroke-width="0.25" textLength="168.21" lengthAdjust="spacingAndGlyphs">sich. Diese Menge entspricht</tspan> <tspan x="718.88" y="571.7" font-size="12.6" fill="#1d1d1b" stroke="#1d1d1b" stroke-width="0.3" textLength="16.8" lengthAdjust="spacingAndGlyphs" class="b">ca.</tspan> <tspan x="544.23" y="587.8" font-size="12.6" fill="#1d1d1b" stroke="#1d1d1b" stroke-width="0.3" textLength="122.63" lengthAdjust="spacingAndGlyphs" class="b">200 Mikrogramm Jod</tspan> <tspan x="670.13" y="587.8" font-size="12.6" fill="#1d1d1b" stroke="#1d1d1b" stroke-width="0.25" textLength="45.87" lengthAdjust="spacingAndGlyphs">pro Tag.</tspan></text>
<rect x="894.2" y="596" width="305.8" height="54" fill="#e5312f"/>
<text x="901.48" y="637.3" font-size="44" fill="#fff" stroke="#fff" stroke-width="0.6" textLength="291.26" lengthAdjust="spacingAndGlyphs" class="b">verbraucherzentrale</text>
</svg></body></html>
